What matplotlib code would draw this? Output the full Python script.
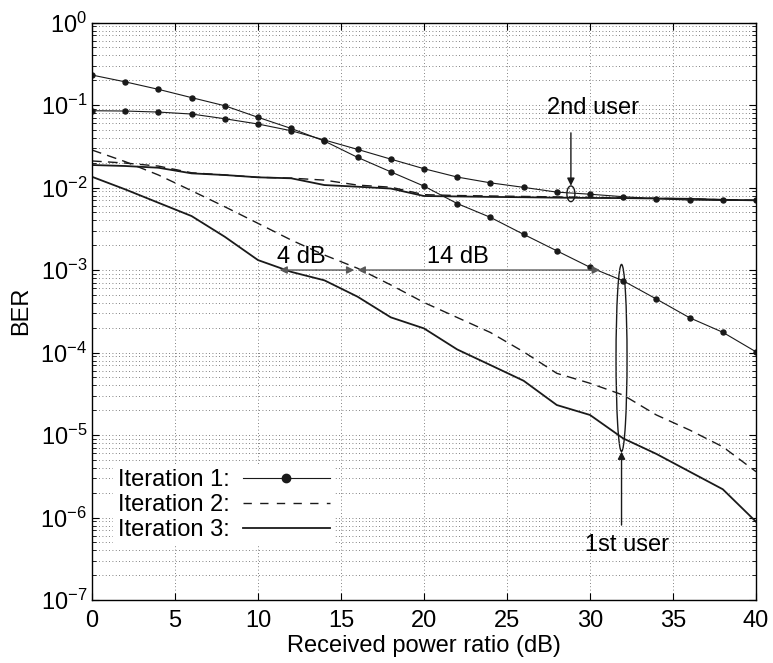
import numpy as np
import matplotlib
matplotlib.use("Agg")
import matplotlib.pyplot as plt
from matplotlib.patches import Ellipse
from matplotlib.lines import Line2D

plt.rcParams['font.family'] = ['Liberation Sans', 'DejaVu Sans']
plt.rcParams['mathtext.fontset'] = 'custom'
plt.rcParams['mathtext.rm'] = 'Liberation Sans'
plt.rcParams['mathtext.it'] = 'Liberation Sans:italic'
plt.rcParams['axes.unicode_minus'] = False

# received power ratio (dB)
snr = np.arange(0, 41, 2)

# iteration 1 (line with dots)
it1_user1 = [0.231, 0.191, 0.155, 0.123, 0.098, 0.071, 0.052, 0.0366, 0.0232, 0.0155,
             0.0104, 0.0064, 0.00435, 0.00271, 0.00171, 0.00108, 7.4e-4, 4.45e-4,
             2.64e-4, 1.76e-4, 1.02e-4]
it1_user2 = [0.0853, 0.0846, 0.0822, 0.0778, 0.0682, 0.0589, 0.0488, 0.0377, 0.029, 0.0221,
             0.0169, 0.0134, 0.0114, 0.01005, 0.0088, 0.0083, 0.00774, 0.00732, 0.00705,
             0.0070, 0.0070]

# iteration 2 (dashed)
it2_user1 = [0.0285, 0.0206, 0.0142, 0.00915, 0.00585, 0.00368, 0.00231, 0.00152, 0.00105,
             6.6e-4, 4.04e-4, 2.66e-4, 1.75e-4, 1.02e-4, 5.6e-5, 4.24e-5, 3.05e-5, 1.75e-5,
             1.15e-5, 7.2e-6, 3.6e-6]
it2_user2 = [0.021, 0.0198, 0.0182, 0.0151, 0.0142, 0.0133, 0.013, 0.0123, 0.0107, 0.0101,
             0.0082, 0.0080, 0.0079, 0.0078, 0.0077, 0.0076, 0.0075, 0.0074, 0.0073,
             0.0071, 0.0070]

# iteration 3 (solid)
it3_user1 = [0.0135, 0.0095, 0.00654, 0.00451, 0.00253, 0.00132, 9.5e-4, 7.5e-4, 4.75e-4,
             2.67e-4, 1.96e-4, 1.09e-4, 7.05e-5, 4.55e-5, 2.31e-5, 1.75e-5, 9.1e-6, 5.9e-6,
             3.6e-6, 2.2e-6, 8.9e-7]
it3_user2 = [0.01875, 0.01824, 0.01738, 0.01486, 0.01418, 0.0133, 0.01294, 0.01072, 0.01023,
             0.00972, 0.00789, 0.0078, 0.0077, 0.00763, 0.00754, 0.00748, 0.00745, 0.00737,
             0.0073, 0.0071, 0.0070]

labels = ['Iteration 1:', 'Iteration 2:', 'Iteration 3:']

fig = plt.figure(figsize=(7.73, 6.63), dpi=100)
ax = fig.add_axes([0.119, 0.095, 0.859, 0.871])

ink = '#1a1a1a'
ax.semilogy(snr, it1_user1, '-', color=ink, lw=0.8, marker='o', ms=3.6)
ax.semilogy(snr, it1_user2, '-', color=ink, lw=0.8, marker='o', ms=3.6)
ax.semilogy(snr, it2_user1, color=ink, lw=1.0, dashes=(7, 4.5))
ax.semilogy(snr, it2_user2, color=ink, lw=1.0, dashes=(7, 4.5))
ax.semilogy(snr, it3_user1, '-', color=ink, lw=1.3)
ax.semilogy(snr, it3_user2, '-', color=ink, lw=1.3)

ax.set_xlim(0, 40)
ax.set_ylim(1e-7, 1)
ax.set_xticks(np.arange(0, 41, 5))
ax.set_yticks([10.0 ** k for k in range(-7, 1)])
ax.set_xlabel('Received power ratio (dB)', fontsize=17, labelpad=2)
ax.set_ylabel('BER', fontsize=17, labelpad=6)

ax.tick_params(which='both', direction='in', top=True, right=True, labelsize=17)
ax.tick_params(which='major', length=5, width=0.8)
ax.tick_params(which='minor', length=3, width=0.6)
ax.tick_params(axis='x', pad=7)
ax.grid(True, which='major', linestyle=(0, (1, 3)), color='0.35', lw=0.6)
ax.grid(True, which='minor', axis='y', linestyle=(0, (1, 3)), color='0.35', lw=0.6)
for s in ax.spines.values():
    s.set_linewidth(1.0)

# power-gap arrows
arrow_kw = dict(arrowstyle='-|>', color='0.35', lw=1.0, mutation_scale=11, shrinkA=0, shrinkB=0)
ax.annotate('', xy=(11.3, 1e-3), xytext=(13.5, 1e-3), arrowprops=arrow_kw)
ax.annotate('', xy=(15.8, 1e-3), xytext=(13.5, 1e-3), arrowprops=arrow_kw)
ax.annotate('', xy=(16.0, 1e-3), xytext=(23.0, 1e-3), arrowprops=arrow_kw)
ax.annotate('', xy=(30.6, 1e-3), xytext=(23.0, 1e-3), arrowprops=arrow_kw)
ax.text(12.6, 1.45e-3, '4 dB', fontsize=17, ha='center', va='center')
ax.text(22.05, 1.45e-3, '14 dB', fontsize=17, ha='center', va='center')

# user markers
pt_kw = dict(arrowstyle='-|>', color=ink, lw=1.0, mutation_scale=11, shrinkA=0, shrinkB=0)
ax.annotate('', xy=(28.85, 0.0105), xytext=(28.85, 0.046), arrowprops=pt_kw)
ax.text(30.2, 0.0912, '2nd user', fontsize=17, ha='center', va='center')
ax.annotate('', xy=(31.9, 6.3e-6), xytext=(31.9, 8.1e-7), arrowprops=pt_kw)
ax.text(32.2, 4.7e-7, '1st user', fontsize=17, ha='center', va='center')

fig.canvas.draw()
to_axes = ax.transData + ax.transAxes.inverted()
c2 = to_axes.transform((28.85, 8.4e-3))
c1 = to_axes.transform((31.9, 8.6e-5))
ax.add_patch(Ellipse(c2, 8 / 664, 15.7 / 577.5, transform=ax.transAxes,
                     fill=False, ec=ink, lw=1.0))
ax.add_patch(Ellipse(c1, 11 / 664, 187 / 577.5, transform=ax.transAxes,
                     fill=False, ec=ink, lw=1.0))

handles = [
    Line2D([], [], color=ink, lw=0.8, marker='o', ms=6),
    Line2D([], [], color=ink, lw=1.0, dashes=(6, 6)),
    Line2D([], [], color=ink, lw=1.3),
]
leg = ax.legend(handles, labels, loc='lower left', bbox_to_anchor=(0.032, 0.094),
                markerfirst=False, numpoints=1, fontsize=17, handlelength=3.7,
                handletextpad=0.55, labelspacing=0.13, borderpad=0.2,
                frameon=True, fancybox=False, borderaxespad=0)
leg.get_frame().set_facecolor('white')
leg.get_frame().set_edgecolor('none')
leg.get_frame().set_alpha(1)

fig.savefig('out.png', dpi=100)
